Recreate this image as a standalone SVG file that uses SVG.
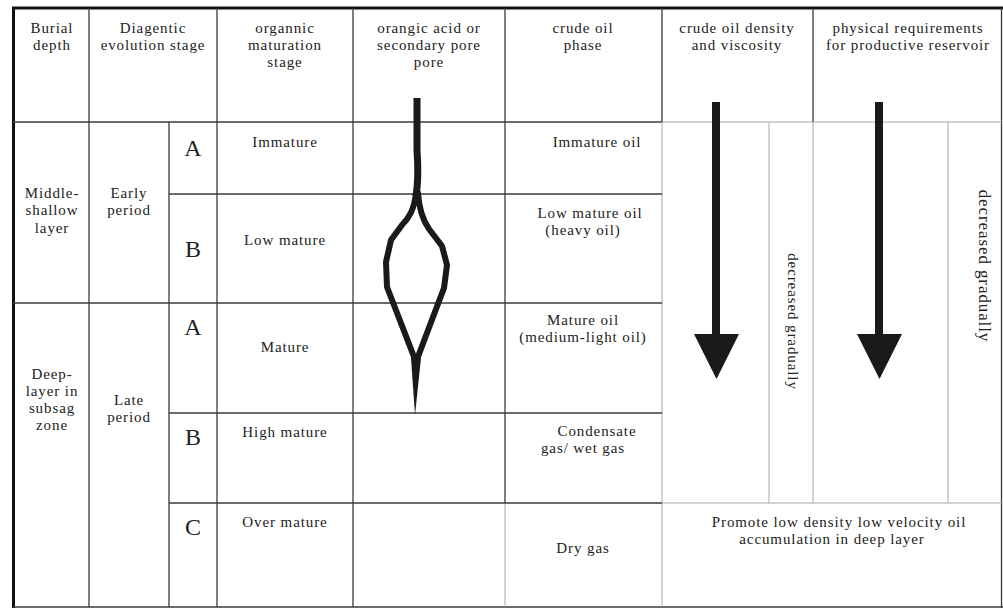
<svg xmlns="http://www.w3.org/2000/svg" width="1003" height="608" viewBox="0 0 1003 608">
<style>
.t{font-family:"Liberation Serif","Times New Roman",serif;font-size:15px;fill:#222;letter-spacing:0.9px;text-anchor:middle}
.big{font-family:"Liberation Serif","Times New Roman",serif;font-size:24px;fill:#222;text-anchor:middle}
.d{stroke:#3a3a3a;stroke-width:1.3;fill:none}
.l{stroke:#a8a8a8;stroke-width:1;fill:none}
.frame{stroke:#111;stroke-width:3;fill:none}
.blk{fill:#1a1a1a}
</style>
<rect x="0" y="0" width="1003" height="608" fill="#fff"/>
<g id="grid">
  <line class="frame" x1="12" y1="8" x2="1003" y2="8"/>
  <line class="frame" x1="13.5" y1="7" x2="13.5" y2="608"/>
  <line class="d" x1="1001.5" y1="8" x2="1001.5" y2="608"/>
  <line class="d" x1="13" y1="607" x2="1003" y2="607"/>
  <line class="d" x1="13" y1="122" x2="662" y2="122"/>
  <line class="l" x1="662" y1="122" x2="1003" y2="122"/>
  <line class="d" x1="89" y1="8" x2="89" y2="607"/>
  <line class="d" x1="169" y1="122" x2="169" y2="607"/>
  <line class="d" x1="217" y1="8" x2="217" y2="607"/>
  <line class="d" x1="353" y1="8" x2="353" y2="607"/>
  <line class="d" x1="505" y1="8" x2="505" y2="503"/>
  <line class="l" x1="505" y1="503" x2="505" y2="607"/>
  <line class="d" x1="662" y1="8" x2="662" y2="122"/>
  <line class="l" x1="662" y1="122" x2="662" y2="607"/>
  <line class="d" x1="813" y1="8" x2="813" y2="122"/>
  <line class="l" x1="813" y1="122" x2="813" y2="503"/>
  <line class="l" x1="769" y1="122" x2="769" y2="503"/>
  <line class="l" x1="948" y1="122" x2="948" y2="503"/>
  <line class="d" x1="169" y1="194" x2="662" y2="194"/>
  <line class="d" x1="13" y1="303" x2="662" y2="303"/>
  <line class="d" x1="169" y1="413" x2="662" y2="413"/>
  <line class="d" x1="169" y1="503" x2="662" y2="503"/>
  <line class="l" x1="662" y1="503" x2="1003" y2="503"/>
</g>
<g id="header">
  <text class="t" x="52" y="33">Burial</text>
  <text class="t" x="52" y="50">depth</text>
  <text class="t" x="153" y="33">Diagentic</text>
  <text class="t" x="153" y="50">evolution stage</text>
  <text class="t" x="285" y="33">organnic</text>
  <text class="t" x="285" y="50">maturation</text>
  <text class="t" x="285" y="67">stage</text>
  <text class="t" x="429" y="33">orangic acid or</text>
  <text class="t" x="429" y="50">secondary pore</text>
  <text class="t" x="429" y="67">pore</text>
  <text class="t" x="583" y="33">crude oil</text>
  <text class="t" x="583" y="50">phase</text>
  <text class="t" x="737" y="33">crude oil density</text>
  <text class="t" x="737" y="50">and  viscosity</text>
  <text class="t" x="908" y="33">physical requirements</text>
  <text class="t" x="908" y="50">for productive reservoir</text>
</g>
<g id="depth">
  <text class="t" x="52" y="198">Middle-</text>
  <text class="t" x="52" y="215">shallow</text>
  <text class="t" x="52" y="233">layer</text>
  <text class="t" x="52" y="379">Deep-</text>
  <text class="t" x="52" y="396">layer in</text>
  <text class="t" x="52" y="413">subsag</text>
  <text class="t" x="52" y="430">zone</text>
</g>
<g id="diagenetic">
  <text class="t" x="129" y="198">Early</text>
  <text class="t" x="129" y="215">period</text>
  <text class="t" x="129" y="405">Late</text>
  <text class="t" x="129" y="422">period</text>
  <text class="big" x="193" y="156">A</text>
  <text class="big" x="193" y="257">B</text>
  <text class="big" x="193" y="335">A</text>
  <text class="big" x="193" y="445">B</text>
  <text class="big" x="193" y="535">C</text>
</g>
<g id="maturation">
  <text class="t" x="285" y="147">Immature</text>
  <text class="t" x="285" y="245">Low mature</text>
  <text class="t" x="285" y="352">Mature</text>
  <text class="t" x="285" y="437">High mature</text>
  <text class="t" x="285" y="527">Over mature</text>
</g>
<g id="pore">
  <path d="M417,98 L417,150 Q419,178 416,196" stroke="#1a1a1a" stroke-width="7" fill="none"/>
  <path d="M416,193 C414,210 409,218 402,225 L391,240 L386,262 L387,287 L416,362 L444,288 L447,265 L442,246 L429,229 C422,219 419,208 418,193 Z" stroke="#1a1a1a" stroke-width="6" fill="none" stroke-linejoin="round"/>
  <polygon class="blk" points="411,358 421,358 415,415"/>
</g>
<g id="phase">
  <text class="t" x="597" y="147">Immature oil</text>
  <text class="t" x="590" y="218">Low mature oil</text>
  <text class="t" x="583" y="235">(heavy oil)</text>
  <text class="t" x="583" y="325">Mature oil</text>
  <text class="t" x="583" y="342">(medium-light oil)</text>
  <text class="t" x="597" y="436">Condensate</text>
  <text class="t" x="583" y="453">gas/ wet gas</text>
  <text class="t" x="583" y="553">Dry gas</text>
</g>
<g id="density">
  <rect class="blk" x="712" y="102" width="8" height="234"/>
  <polygon class="blk" points="694,334 739,334 716.5,379"/>
  <text class="t" transform="translate(787.5,321.5) rotate(90)" x="0" y="0">decreased gradually</text>
</g>
<g id="reservoir">
  <rect class="blk" x="875" y="102" width="8" height="234"/>
  <polygon class="blk" points="857,334 902,334 879.5,379"/>
  <text class="t" style="font-size:17px" transform="translate(978.5,266) rotate(90)" x="0" y="0">decreased gradually</text>
</g>
<g id="bottom-note">
  <text class="t" x="839" y="527">Promote low density low velocity oil</text>
  <text class="t" x="832" y="544">accumulation in deep layer</text>
</g>
</svg>
